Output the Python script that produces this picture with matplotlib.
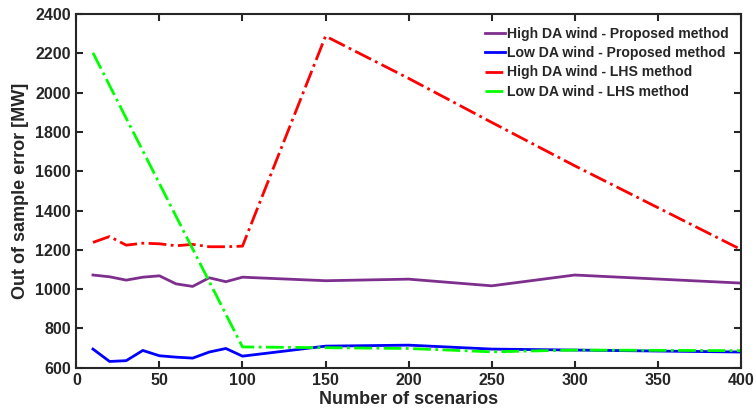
import matplotlib
matplotlib.use('Agg')
import matplotlib.pyplot as plt

# Scenario counts and out-of-sample errors
scen = [10, 20, 30, 40, 50, 60, 70, 80, 90, 100, 150, 200, 250, 300, 400]
high_prop = [1072, 1063, 1046, 1061, 1068, 1027, 1014, 1058, 1038, 1061, 1043, 1051, 1017, 1072, 1031]
low_prop = [695, 632, 636, 688, 661, 654, 649, 680, 698, 659, 710, 715, 695, 690, 680]
high_lhs = [1238, 1268, 1224, 1234, 1231, 1221, 1228, 1216, 1216, 1219, 2288, 2073, 1849, 1628, 1202]
scen_low_lhs = [10, 100, 150, 200, 250, 300, 400]
low_lhs = [2203, 706, 702, 698, 681, 690, 687]

plt.rcParams['font.family'] = ['Liberation Sans', 'DejaVu Sans']
plt.rcParams['font.weight'] = 'bold'
plt.rcParams['text.color'] = '#262626'
plt.rcParams['axes.labelcolor'] = '#262626'
plt.rcParams['xtick.color'] = '#262626'
plt.rcParams['ytick.color'] = '#262626'

fig = plt.figure(figsize=(7.56, 4.16), dpi=100)
ax = fig.add_axes([0.101, 0.116, 0.879, 0.850])

ax.plot(scen, high_prop, color='#7E2F8E', lw=2, label='High DA wind - Proposed method')
ax.plot(scen, low_prop, color='#0000FF', lw=2, label='Low DA wind - Proposed method')
ax.plot(scen, high_lhs, color='#FF0000', lw=2, ls='-.', label='High DA wind - LHS method')
ax.plot(scen_low_lhs, low_lhs, color='#00FF00', lw=2, ls='-.', label='Low DA wind - LHS method')

ax.set_xlim(0, 400)
ax.set_ylim(600, 2400)
ax.set_xticks(range(0, 401, 50))
ax.set_yticks(range(600, 2401, 200))
ax.tick_params(direction='in', top=True, right=True, labelsize=11.5, width=1.5, length=5, pad=4)
for s in ax.spines.values():
    s.set_linewidth(1.5)
    s.set_color('#262626')
ax.set_xlabel('Number of scenarios', fontsize=13, fontweight='bold', labelpad=2)
ax.set_ylabel('Out of sample error [MW]', fontsize=13, fontweight='bold', labelpad=4)

ax.legend(loc='upper right', frameon=False, fontsize=10.1, handlelength=1.4,
          handletextpad=0.1, labelspacing=0.38, borderaxespad=0.5)

fig.savefig('out.png', dpi=100)
